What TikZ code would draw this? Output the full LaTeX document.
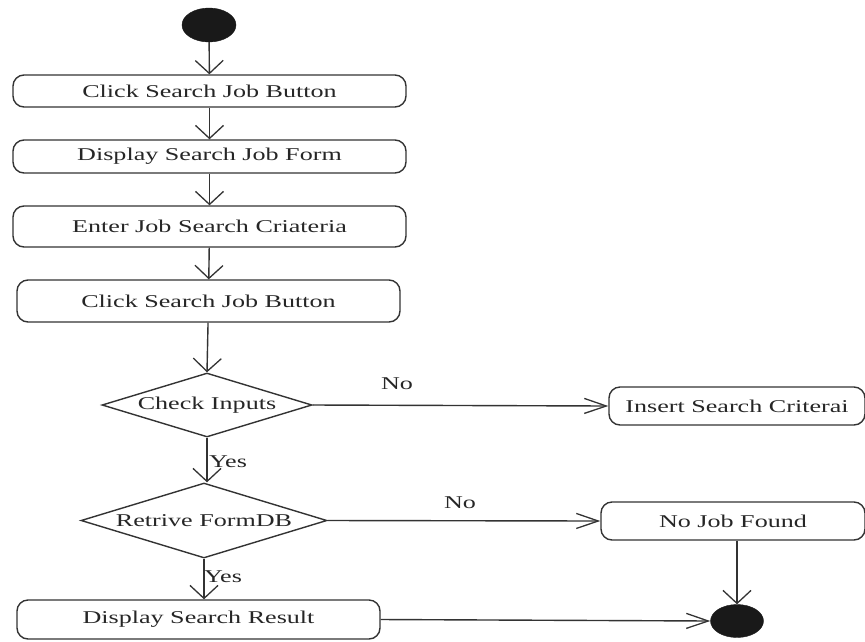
\documentclass[tikz,border=0pt]{standalone}
\usepackage{fontspec}
\setmainfont{Liberation Serif}
\usetikzlibrary{shapes.geometric,arrows.meta}
\newcommand{\wtext}[1]{\scalebox{1.45}[1]{#1}}
\tikzset{
  every node/.style={font=\fontsize{18}{21}\selectfont, text=black!85},
  act/.style={draw=black!80, line width=1.4pt, rounded corners=11pt, inner sep=0pt},
  decision/.style={draw=black!80, line width=1.4pt, shape=diamond, inner sep=0pt, shape aspect=3.3},
  blob/.style={ellipse, fill=black!90, draw=black!90, inner sep=0pt},
  flowv/.style={draw=black!80, line width=1.4pt, -{Straight Barb[length=13pt,width=28pt,line width=1.3pt]}},
  flowh/.style={draw=black!80, line width=1.4pt, -{Straight Barb[length=22pt,width=15pt,line width=1.3pt]}},
  lbl/.style={inner sep=0pt}
}
\begin{document}
\begin{tikzpicture}[x=1pt,y=-1pt]
  \useasboundingbox (0,0) rectangle (865,641);

  % start and end states
  \node[blob, minimum width=54pt, minimum height=34pt] (start) at (209,25) {};
  \node[blob, minimum width=53pt, minimum height=33pt] (stop) at (737,621) {};

  % activities
  \node[act, minimum width=393pt, minimum height=32pt] (b1) at (209.5,91) {\wtext{Click Search Job Button}};
  \node[act, minimum width=393pt, minimum height=33pt] (b2) at (209.5,156.5) {\wtext{Display Search Job Form}};
  \node[act, minimum width=393pt, minimum height=41pt] (b3) at (209.5,226.5) {\wtext{Enter Job Search Criateria}};
  \node[act, minimum width=383pt, minimum height=42pt] (b4) at (208.5,301) {\wtext{Click Search Job Button}};
  \node[act, minimum width=363pt, minimum height=39pt] (b5) at (198.5,619.5) {\wtext{Display Search Result}};
  \node[act, minimum width=256pt, minimum height=38pt] (ins) at (737,406) {\wtext{Insert Search Criterai}};
  \node[act, minimum width=264pt, minimum height=38pt] (nj) at (733,521) {\wtext{No Job Found}};

  % decisions
  \node[decision, minimum width=210pt, minimum height=64pt] (d1) at (207,405) {\wtext{Check Inputs}};
  \node[decision, minimum width=246pt, minimum height=75pt] (d2) at (204,520.5) {\wtext{Retrive FormDB}};

  % control flow
  \draw[flowv] (start) -- (b1);
  \draw[flowv] (b1) -- (b2);
  \draw[flowv] (b2) -- (b3);
  \draw[flowv] (b3) -- (b4);
  \draw[flowv] (b4) -- (d1.north);
  \draw[flowv] (d1.south) -- (d1.south |- d2.north);
  \draw[flowv] (d2.south) -- (d2.south |- b5.north);
  \draw[flowh] (d1.east) -- (ins.west);
  \draw[flowh] (d2.east) -- (nj.west);
  \draw[flowv] (nj.south -| stop.north) -- (stop.north);
  \draw[flowh] (b5.east) -- (stop.west);

  % guards
  \node[lbl] (yes1) at (228,462) {\wtext{Yes}};
  \node[lbl] (yes2) at (223,577) {\wtext{Yes}};
  \node[lbl] (no1) at (397,384) {\wtext{No}};
  \node[lbl] (no2) at (460,503) {\wtext{No}};
\end{tikzpicture}
\end{document}
